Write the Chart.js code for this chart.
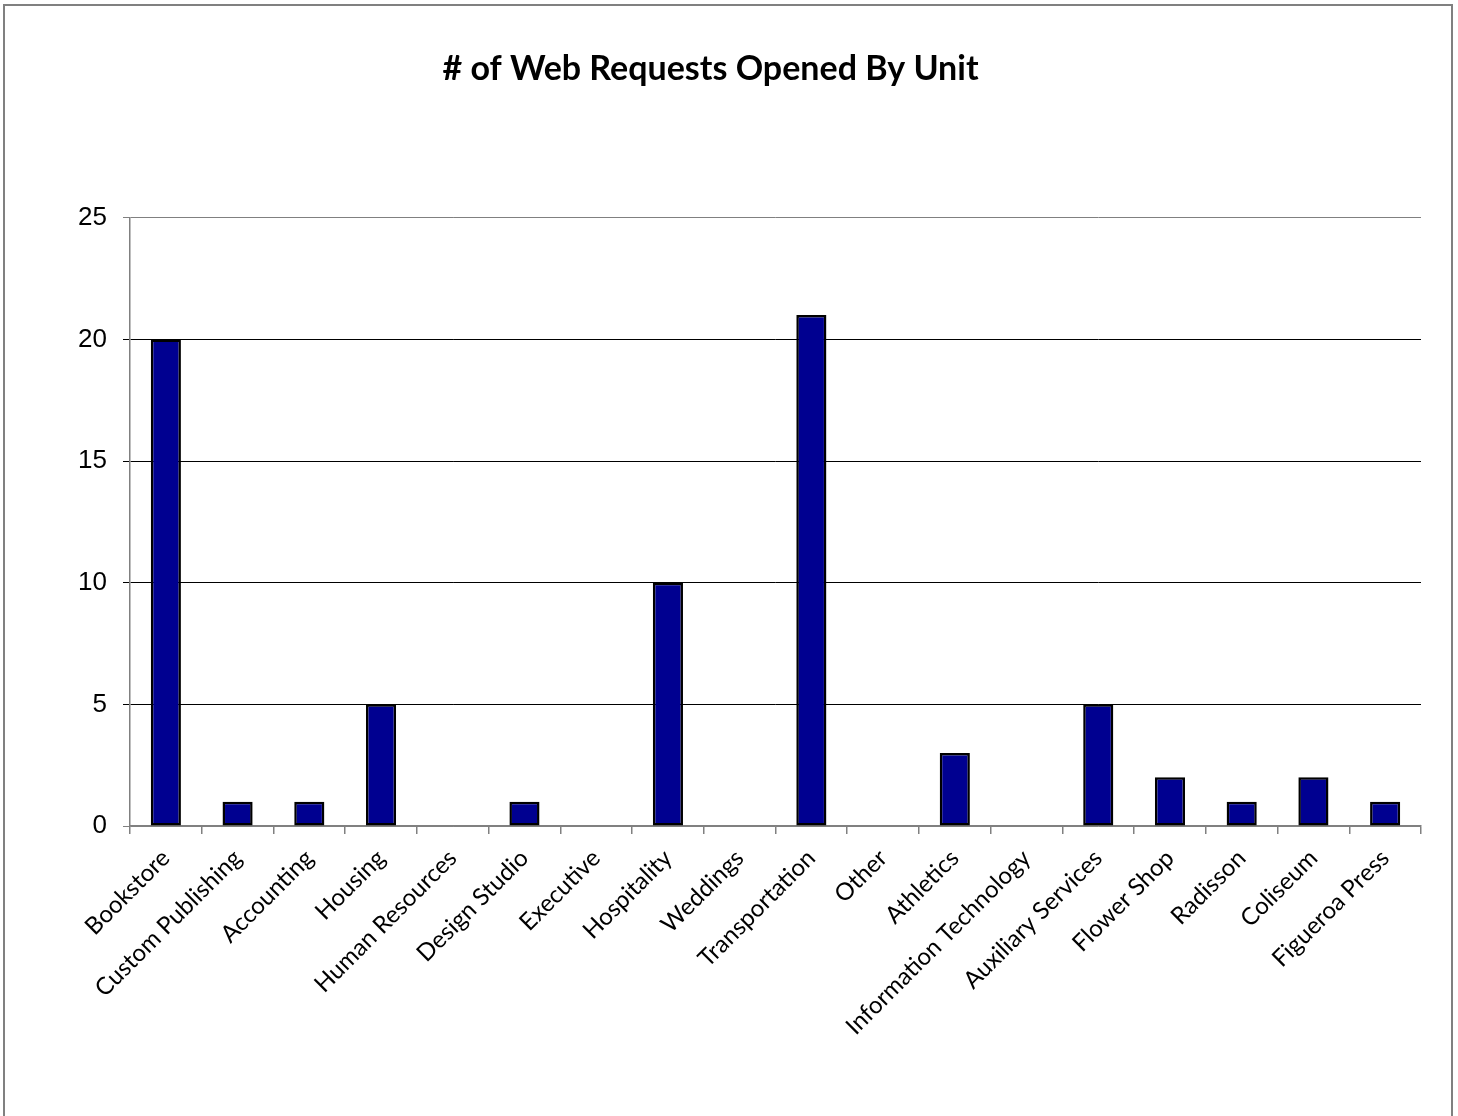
<!DOCTYPE html>
<html>
<head>
<meta charset="utf-8">
<script src="https://cdn.jsdelivr.net/npm/chart.js@4"></script>
<style>
    html, body { margin: 0; padding: 0; background: #fff; }
    #wrap { width: 1458px; height: 1116px; position: relative; }
</style>
</head>
<body>
<div id="wrap"><canvas id="chart"></canvas></div>
<script>
const units = [
    "Bookstore", "Custom Publishing", "Accounting", "Housing", "Human Resources",
    "Design Studio", "Executive", "Hospitality", "Weddings", "Transportation",
    "Other", "Athletics", "Information Technology", "Auxiliary Services",
    "Flower Shop", "Radisson", "Coliseum", "Figueroa Press",
]
const requests = [20, 1, 1, 5, 0, 1, 0, 10, 0, 21, 0, 3, 0, 5, 2, 1, 2, 1]
const yTicks = [0, 5, 10, 15, 20, 25]

const AXIS_GRAY = "#808080"

// outer frame like the spreadsheet chart border
const framePlugin = {
    id: "frame",
    beforeDraw(chart) {
        const { ctx } = chart
        ctx.save()
        ctx.fillStyle = "#fff"
        ctx.fillRect(0, 0, chart.width, chart.height)
        ctx.strokeStyle = AXIS_GRAY
        ctx.lineWidth = 2
        ctx.strokeRect(4, 5, 1448, 1200)
        ctx.restore()
    },
}

const ctx = document.getElementById("chart").getContext("2d")

const chart = new Chart(ctx, {
    type: "bar",
    data: {
        labels: units,
        datasets: [
            {
                label: "# of Web Requests",
                data: requests,
                backgroundColor: "#000090",
                borderColor: "#000",
                borderWidth: c => (c.raw === 0 ? 0 : 2.5),
                borderSkipped: false,
                barPercentage: 0.42,
                categoryPercentage: 1,
            },
        ],
    },
    options: {
        responsive: true,
        maintainAspectRatio: false,
        animation: false,
        layout: { padding: { left: 0, right: 37, top: 0, bottom: 0 } },
        plugins: {
            legend: { display: false },
            tooltip: { enabled: false },
            title: {
                display: true,
                text: "# of Web Requests Opened By Unit",
                color: "#000",
                font: { family: "Lato", size: 34, weight: "bold", lineHeight: 1.2 },
                padding: { top: 49, bottom: 128 },
            },
        },
        scales: {
            x: {
                afterFit: scale => { scale.height = 290 },
                border: { display: true, color: AXIS_GRAY, width: 1.5 },
                grid: {
                    display: true,
                    offset: true,
                    drawOnChartArea: false,
                    drawTicks: true,
                    tickLength: 8,
                    color: AXIS_GRAY,
                    lineWidth: 1.5,
                },
                ticks: {
                    color: "#000",
                    font: { family: "Lato", size: 24 },
                    minRotation: 45,
                    maxRotation: 45,
                    autoSkip: false,
                    padding: 10,
                },
            },
            y: {
                min: 0,
                max: 25,
                afterFit: scale => { scale.width = 130 },
                afterBuildTicks: scale => {
                    scale.ticks = yTicks.map(v => ({ value: v }))
                },
                border: { display: true, color: AXIS_GRAY, width: 1.5 },
                grid: {
                    color: c => (c.tick && (c.tick.value === 0 || c.tick.value === 25) ? AXIS_GRAY : "#000"),
                    lineWidth: 1,
                    tickLength: 7,
                },
                ticks: {
                    color: "#000",
                    font: { family: "Liberation Sans", size: 26 },
                    padding: 16,
                },
            },
        },
    },
    plugins: [framePlugin],
})
</script>
</body>
</html>
